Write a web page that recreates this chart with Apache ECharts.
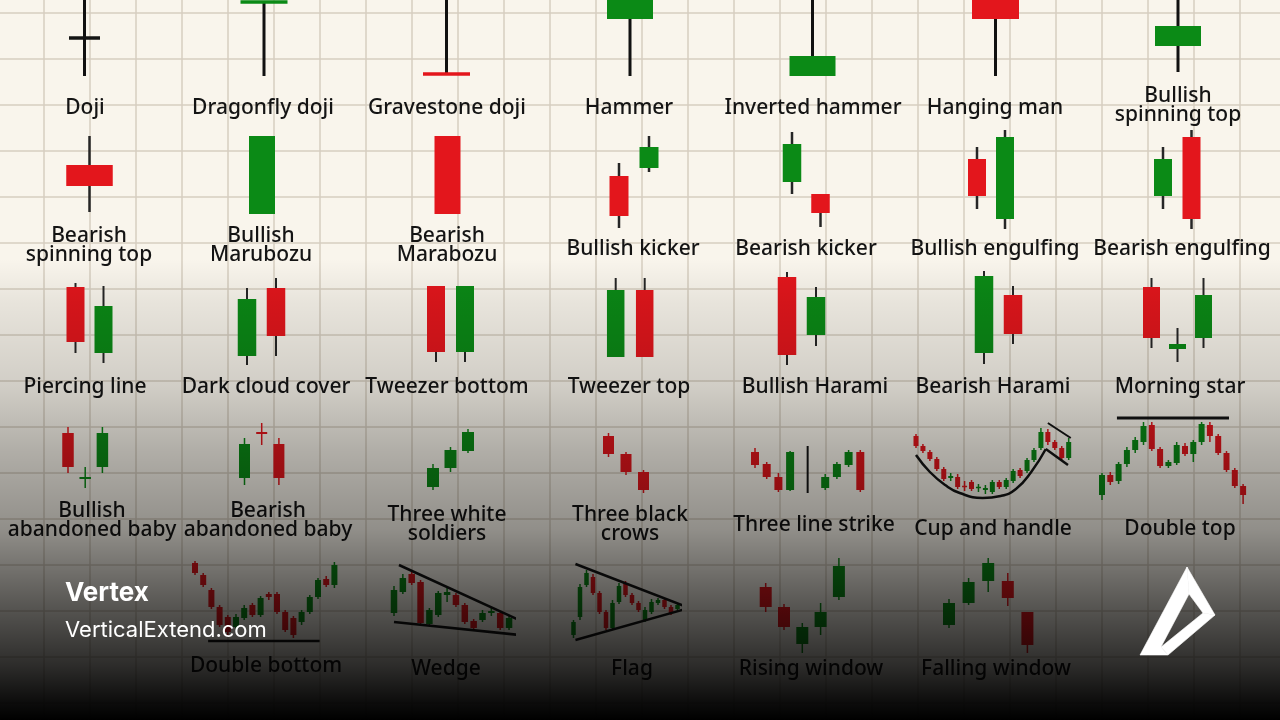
<!DOCTYPE html>
<html>
<head>
<meta charset="utf-8">
<title>Candlestick patterns</title>
<script src="https://cdn.jsdelivr.net/npm/echarts@6/dist/echarts.min.js"></script>
<style>
  html, body { margin: 0; padding: 0; background: #f9f5ec; }
  #main { width: 1280px; height: 720px; }
</style>
</head>
<body>
<div id="main"></div>
<script>
var GREEN = '#0b8a16';
var RED = '#e3161c';
var INK = '#141414';

// candles: [open, close, low, high]
var dojiBars = [[42, 42, 4, 100]];
var dragonflyBars = [[78, 78, 4, 78]];
var gravestoneBars = [[6, 6, 6, 100]];
var hammerBars = [[61, 84, 4, 84]];
var invHammerBars = [[4, 24, 4, 100]];
var hangingManBars = [[84, 61, 4, 84]];
var bullSpinBars = [[34, 54, 8, 100]];

var bearSpinBars = [[65, 44, 18, 94]];
var bullMaruBars = [[16, 94, 16, 94]];
var bearMaruBars = [[94, 16, 16, 94]];
var bullKickerBars = [[54, 14, 2, 67], [62, 83, 58, 94]];
var bearKickerBars = [[48, 86, 36, 98], [36, 17, 3, 36]];
var bullEngulfBars = [[71, 34, 21, 83], [11, 93, 1, 100]];
var bearEngulfBars = [[34, 71, 21, 83], [93, 11, 1, 100]];

var piercingBars = [[83, 28, 17, 87], [17, 64, 7, 84]];
var darkCloudBars = [[14, 71, 5, 82], [82, 34, 14, 92]];
var tweezerBottomBars = [[84, 18, 8, 84], [18, 84, 8, 84]];
var tweezerTopBars = [[13, 80, 13, 92], [80, 13, 13, 92]];
var bullHaramiBars = [[93, 15, 5, 98], [35, 73, 24, 83]];
var bearHaramiBars = [[17, 94, 6, 99], [75, 36, 26, 84]];
var morningStarBars = [[83, 32, 22, 92], [21, 26, 8, 42], [32, 75, 22, 92]];

var bullBabyBars = [[67, 33, 27, 73], [21, 23, 12, 33], [33, 67, 27, 73]];
var bearBabyBars = [[22, 56, 15, 62], [68, 66, 55, 77], [56, 22, 15, 62]];
var whiteSoldiersBars = [[13, 32, 10, 36], [32, 50, 28, 53], [49, 68, 47, 71]];
var blackCrowsBars = [[64, 46, 43, 67], [46, 28, 25, 48], [28, 10, 7, 30]];
var lineStrikeBars = [[48, 35, 32, 52], [36, 23, 21, 38], [23, 10, 8, 27], [10, 48, 9, 49], null, null,
  [12, 23, 10, 26], [23, 36, 21, 38], [35, 48, 33, 50], [48, 10, 8, 50]];
var cupBars = [[64, 54, 52, 66], [54, 49, 47, 56], [48, 41, 39, 50], [41, 31, 29, 43], [31, 21, 19, 33],
  [22, 24, 19, 27], [23, 13, 11, 26], [14, 13, 9, 19], [18, 11, 9, 20], [12, 13, 8, 16], [10, 12, 6, 15],
  [8, 18, 6, 20], [18, 13, 11, 20], [13, 20, 11, 22], [19, 29, 17, 31], [30, 24, 22, 32], [29, 40, 27, 42],
  [40, 50, 38, 52], [52, 68, 50, 72], [68, 58, 55, 71], [58, 52, 50, 60], [52, 42, 40, 54], [42, 58, 40, 62]];
var doubleTopBars = [[5, 25, 0, 27], [25, 18, 15, 28], [19, 36, 16, 38], [36, 50, 33, 53], [50, 60, 47, 63],
  [58, 74, 55, 78], [75, 51, 49, 78], [51, 34, 32, 53], [34, 38, 32, 40], [37, 55, 35, 58], [54, 46, 44, 57],
  [46, 58, 38, 60], [58, 76, 55, 78], [75, 64, 58, 78], [64, 47, 45, 66], [47, 30, 28, 49], [30, 14, 12, 32],
  [14, 5, -4, 16]];

var doubleBottomBars = [[97, 87, 85, 99], [85, 75, 73, 87], [70, 53, 51, 72], [53, 35, 33, 55], [43, 28, 25, 45],
  [33, 43, 30, 46], [42, 52, 40, 55], [55, 45, 43, 57], [45, 62, 43, 64], [66, 63, 60, 68], [66, 48, 46, 68],
  [48, 30, 28, 50], [42, 25, 22, 44], [38, 48, 35, 50], [48, 63, 46, 65], [63, 80, 61, 82], [81, 75, 73, 84],
  [75, 95, 72, 98]];
var wedgeBars = [[47, 70, 44, 74], [68, 82, 66, 86], [86, 77, 75, 88], [78, 37, 35, 80], [36, 50, 34, 52],
  [45, 67, 43, 69], [65, 68, 58, 72], [65, 55, 53, 67], [55, 38, 36, 57], [39, 32, 30, 41], [40, 47, 38, 50],
  [47, 49, 44, 52], [47, 32, 30, 49], [32, 42, 30, 44]];
var flagBars = [[25, 38, 22, 40], [43, 73, 40, 76], [75, 87, 73, 90], [83, 67, 65, 86], [67, 48, 46, 69],
  [48, 32, 30, 50], [32, 57, 30, 60], [58, 74, 56, 77], [77, 65, 63, 79], [65, 57, 55, 67], [57, 50, 48, 59],
  [40, 50, 38, 53], [48, 58, 46, 61], [57, 60, 55, 62], [60, 53, 51, 62], [53, 47, 45, 55], [51, 55, 49, 57]];
var risingWindowBars = [[73, 53, 48, 77], [53, 33, 30, 56], [16, 33, 7, 37], [33, 48, 25, 57], [63, 94, 60, 102]];
var fallingWindowBars = [[35, 57, 32, 61], [57, 78, 55, 82], [79, 97, 68, 102], [79, 62, 54, 87], [48, 15, 7, 48]];

// guide lines: [bar index, price]
var strikeDivider = [[4.5, 54], [4.5, 7]];
var cupCurve = [[0, 45], [2, 28], [4.2, 15], [6.3, 7], [9.6, 2], [12.2, 4], [14.4, 11], [16.6, 28], [18.7, 51]];
var handleLow = [[18.7, 51], [21.9, 35]];
var handleHigh = [[19, 77], [22.3, 62]];
var doubleTopLine = [[1.8, 82], [15.3, 82]];
var doubleBottomLine = [[1.6, 19], [15.2, 19]];
var wedgeTop = [[0.56, 95], [14.1, 40]];
var wedgeBottom = [[0, 38], [14.2, 25]];
var flagTop = [[0.3, 96], [17.8, 52]];
var flagBottom = [[0.3, 20], [17.8, 52]];

var patternNames = [
  'Doji', 'Dragonfly doji', 'Gravestone doji', 'Hammer', 'Inverted hammer', 'Hanging man', 'Bullish\nspinning top',
  'Bearish\nspinning top', 'Bullish\nMarubozu', 'Bearish\nMarabozu', 'Bullish kicker', 'Bearish kicker', 'Bullish engulfing', 'Bearish engulfing',
  'Piercing line', 'Dark cloud cover', 'Tweezer bottom', 'Tweezer top', 'Bullish Harami', 'Bearish Harami', 'Morning star',
  'Bullish\nabandoned baby', 'Bearish\nabandoned baby', 'Three white\nsoldiers', 'Three black\ncrows', 'Three line strike', 'Cup and handle', 'Double top',
  'Double bottom', 'Wedge', 'Flag', 'Rising window', 'Falling window'
];

// row price frames; base = pixel row where price 0 sits
var rows = [
  { base: 80, min: 0, max: 100, wick: '#111', wickW: 3, flat: 3.5 },
  { base: 230, min: 0, max: 110, wick: '#262626', wickW: 2.5, flat: 3 },
  { base: 370, min: 0, max: 100, wick: '#262626', wickW: 2, flat: 3 },
  { base: 500, min: -10, max: 90, wick: 'body', wickW: 1.5, flat: 2 },
  { base: 660, min: 0, max: 110, wick: 'body', wickW: 1.5, flat: 2 }
];

var cells = [
  { bars: dojiBars, row: 0, x0: 84.5, w: 31, doji: INK, lx: 85, ly: 108 },
  { bars: dragonflyBars, row: 0, x0: 264, w: 47, doji: GREEN, lx: 263, ly: 108 },
  { bars: gravestoneBars, row: 0, x0: 446.5, w: 47, doji: RED, lx: 447, ly: 108 },
  { bars: hammerBars, row: 0, x0: 630, w: 46, lx: 629, ly: 108 },
  { bars: invHammerBars, row: 0, x0: 812.5, w: 46, lx: 813, ly: 108 },
  { bars: hangingManBars, row: 0, x0: 995.5, w: 47, lx: 995, ly: 108 },
  { bars: bullSpinBars, row: 0, x0: 1178, w: 46, lx: 1178, ly: 106 },

  { bars: bearSpinBars, row: 1, x0: 89.5, w: 46.5, lx: 89, ly: 246 },
  { bars: bullMaruBars, row: 1, x0: 262, w: 26, lx: 261, ly: 246 },
  { bars: bearMaruBars, row: 1, x0: 447.5, w: 26, lx: 447, ly: 246 },
  { bars: bullKickerBars, row: 1, x0: 619, step: 30, w: 19, lx: 633, ly: 249 },
  { bars: bearKickerBars, row: 1, x0: 792, step: 28.5, w: 18.5, lx: 806, ly: 249 },
  { bars: bullEngulfBars, row: 1, x0: 977, step: 28, w: 18, lx: 995, ly: 249 },
  { bars: bearEngulfBars, row: 1, x0: 1163, step: 28.5, w: 18, lx: 1182, ly: 249 },

  { bars: piercingBars, row: 2, x0: 75.5, step: 28, w: 18, lx: 85, ly: 387 },
  { bars: darkCloudBars, row: 2, x0: 247, step: 29, w: 18.5, lx: 266, ly: 387 },
  { bars: tweezerBottomBars, row: 2, x0: 436, step: 29, w: 18, lx: 447, ly: 387 },
  { bars: tweezerTopBars, row: 2, x0: 615.7, step: 29, w: 17.5, lx: 629, ly: 387 },
  { bars: bullHaramiBars, row: 2, x0: 787, step: 29, w: 18.5, lx: 815, ly: 387 },
  { bars: bearHaramiBars, row: 2, x0: 984, step: 29, w: 18.5, lx: 993, ly: 387 },
  { bars: morningStarBars, row: 2, x0: 1151.5, step: 26, w: 17, lx: 1180, ly: 387 },

  { bars: bullBabyBars, row: 3, x0: 68, step: 17.2, w: 11.5, lx: 92, ly: 521 },
  { bars: bearBabyBars, row: 3, x0: 244.5, step: 17.2, w: 11, lx: 268, ly: 521 },
  { bars: whiteSoldiersBars, row: 3, x0: 433, step: 17.5, w: 12, lx: 447, ly: 525 },
  { bars: blackCrowsBars, row: 3, x0: 608.5, step: 17.5, w: 11, lx: 630, ly: 525 },
  { bars: lineStrikeBars, row: 3, x0: 755, step: 11.7, w: 8, lx: 814, ly: 525,
    lines: [{ data: strikeDivider, width: 2 }] },
  { bars: cupBars, row: 3, x0: 916, step: 6.94, w: 5, lx: 993, ly: 529,
    lines: [{ data: cupCurve, width: 2.5, smooth: true }, { data: handleLow, width: 2.5 }, { data: handleHigh, width: 2 }] },
  { bars: doubleTopBars, row: 3, x0: 1102, step: 8.3, w: 6, lx: 1180, ly: 529,
    lines: [{ data: doubleTopLine, width: 3 }] },

  { bars: doubleBottomBars, row: 4, x0: 195, step: 8.2, w: 6, lx: 266, ly: 666,
    lines: [{ data: doubleBottomLine, width: 2.5 }] },
  { bars: wedgeBars, row: 4, x0: 394, step: 8.85, w: 6.5, lx: 446, ly: 669,
    lines: [{ data: wedgeTop, width: 2.5 }, { data: wedgeBottom, width: 2.5 }] },
  { bars: flagBars, row: 4, x0: 573.5, step: 6.5, w: 4.5, lx: 632, ly: 669,
    lines: [{ data: flagTop, width: 2.5 }, { data: flagBottom, width: 2.5 }] },
  { bars: risingWindowBars, row: 4, x0: 765.7, step: 18.3, w: 12, lx: 811, ly: 669 },
  { bars: fallingWindowBars, row: 4, x0: 949, step: 19.6, w: 12, lx: 996, ly: 669 }
];

function makeCandle(cell, row) {
  return function (params, api) {
    var i = api.value(0), o = api.value(1), c = api.value(2), lo = api.value(3), hi = api.value(4);
    var pTop = api.coord([i, Math.max(o, c)]);
    var pBot = api.coord([i, Math.min(o, c)]);
    var pHi = api.coord([i, hi]);
    var pLo = api.coord([i, lo]);
    var x = pTop[0];
    var flat = o === c;
    var fill = flat ? (cell.doji || INK) : (c > o ? GREEN : RED);
    var wick = row.wick === 'body' ? fill : row.wick;
    var y0 = pTop[1], h = pBot[1] - pTop[1];
    if (flat) { y0 = pTop[1] - row.flat / 2; h = row.flat; }
    else if (h < 1.5) { y0 -= (1.5 - h) / 2; h = 1.5; }
    var kids = [];
    if (pHi[1] < pLo[1]) {
      kids.push({ type: 'line', shape: { x1: x, y1: pHi[1], x2: x, y2: pLo[1] },
        style: { stroke: wick, lineWidth: row.wickW } });
    }
    kids.push({ type: 'rect', shape: { x: x - cell.w / 2, y: y0, width: cell.w, height: h },
      style: { fill: fill } });
    return { type: 'group', children: kids };
  };
}

var option = {
  backgroundColor: '#f9f5ec',
  animation: false,
  grid: [{ left: -2, top: -33, width: 1288, height: 782, outerBoundsMode: 'none' }],
  xAxis: [{
    gridIndex: 0, type: 'value', min: 0, max: 28, interval: 1,
    axisLine: { show: false }, axisTick: { show: false }, axisLabel: { show: false },
    splitLine: { show: true, lineStyle: { color: '#d6cec1', width: 1.5 } }
  }],
  yAxis: [{
    gridIndex: 0, type: 'value', min: 0, max: 17, interval: 1,
    axisLine: { show: false }, axisTick: { show: false }, axisLabel: { show: false },
    splitLine: { show: true, lineStyle: { color: '#d6cec1', width: 1.5 } }
  }],
  series: [],
  graphic: { elements: [] }
};

cells.forEach(function (cell, k) {
  var row = rows[cell.row];
  var n = cell.bars.length;
  var step = cell.step || 60;
  option.grid.push({
    left: cell.x0 - step / 2, top: row.base - row.max,
    width: n * step, height: row.max - row.min, outerBoundsMode: 'none'
  });
  var gi = option.grid.length - 1;
  option.xAxis.push({ gridIndex: gi, type: 'value', min: -0.5, max: n - 0.5, show: false });
  option.yAxis.push({ gridIndex: gi, type: 'value', min: row.min, max: row.max, show: false });

  var data = [];
  cell.bars.forEach(function (b, i) {
    if (b) data.push([i, b[0], b[1], b[2], b[3]]);
  });
  option.series.push({
    type: 'custom', xAxisIndex: gi, yAxisIndex: gi, data: data,
    renderItem: makeCandle(cell, row), clip: false, silent: true, z: 3
  });
  (cell.lines || []).forEach(function (ln) {
    option.series.push({
      type: 'line', xAxisIndex: gi, yAxisIndex: gi, data: ln.data,
      smooth: ln.smooth ? 0.5 : false, symbol: 'none', clip: false, silent: true, z: 4,
      lineStyle: { color: INK, width: ln.width }
    });
  });

  option.graphic.elements.push({
    type: 'text', z: 10, silent: true,
    style: {
      text: patternNames[k], x: cell.lx, y: cell.ly,
      textAlign: 'center', textVerticalAlign: 'middle',
      font: '500 21px "Noto Sans"', fill: INK, lineHeight: 19
    }
  });
});

// darkening fade over the lower part
option.graphic.elements.push({
  type: 'rect', z: 100, silent: true,
  shape: { x: 0, y: 0, width: 1280, height: 720 },
  style: {
    fill: {
      type: 'linear', x: 0, y: 0, x2: 0, y2: 1,
      colorStops: [
        { offset: 0, color: 'rgba(0,0,0,0)' },
        { offset: 0.36, color: 'rgba(0,0,0,0)' },
        { offset: 0.42, color: 'rgba(0,0,0,0.07)' },
        { offset: 0.535, color: 'rgba(0,0,0,0.16)' },
        { offset: 0.625, color: 'rgba(0,0,0,0.29)' },
        { offset: 0.736, color: 'rgba(0,0,0,0.42)' },
        { offset: 0.833, color: 'rgba(0,0,0,0.63)' },
        { offset: 0.924, color: 'rgba(0,0,0,0.82)' },
        { offset: 0.972, color: 'rgba(0,0,0,0.94)' },
        { offset: 1, color: 'rgba(0,0,0,1)' }
      ]
    }
  }
});

option.graphic.elements.push({
  type: 'text', z: 110, silent: true,
  style: { text: 'Vertex', x: 65, y: 593, textVerticalAlign: 'middle',
    font: 'bold 26px Inter', fill: '#ffffff' }
});
option.graphic.elements.push({
  type: 'text', z: 110, silent: true,
  style: { text: 'VerticalExtend.com', x: 65, y: 630, textVerticalAlign: 'middle',
    font: '22px Inter', fill: '#ffffff' }
});
// logo: hollow triangle drawn as three bands
var logoBands = [
  [[1187, 567], [1215, 615], [1203, 613], [1189, 594]],
  [[1215, 615], [1168, 655], [1161, 647], [1203, 613]],
  [[1168, 655], [1140, 655], [1187, 567], [1189, 594], [1161, 647]]
];
logoBands.forEach(function (pts) {
  option.graphic.elements.push({
    type: 'polygon', z: 110, silent: true,
    shape: { points: pts },
    style: { fill: '#ffffff', stroke: '#ffffff', lineWidth: 0.6 }
  });
});

var myChart = echarts.init(document.getElementById('main'));
myChart.setOption(option);
</script>
</body>
</html>
